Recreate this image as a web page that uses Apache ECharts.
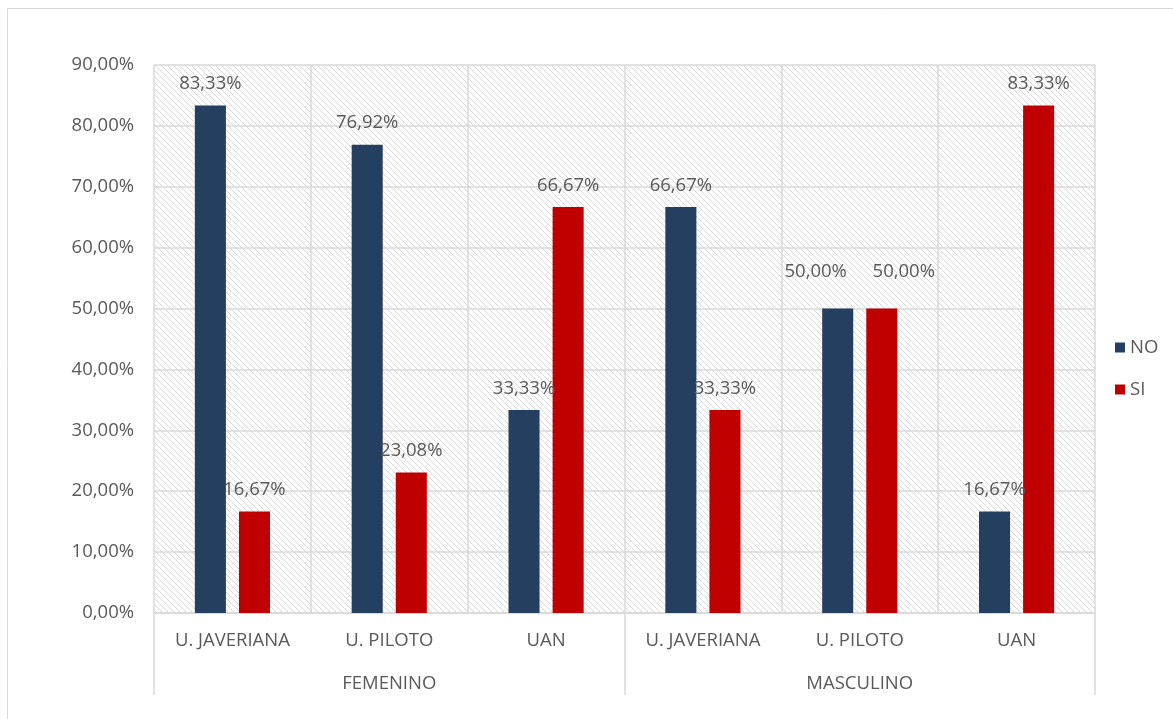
<!DOCTYPE html>
<html><head><meta charset="utf-8">
<script src="https://cdn.jsdelivr.net/npm/echarts@6/dist/echarts.min.js"></script>
<style>html,body{margin:0;padding:0;background:#fff}#c{width:1173px;height:719px}</style>
</head><body><div id="c"></div>
<script>
const categories = ['U. JAVERIANA','U. PILOTO','UAN','U. JAVERIANA','U. PILOTO','UAN'];
const groups = ['FEMENINO','MASCULINO'];
const noValues = [83.33, 76.92, 33.33, 66.67, 50.00, 16.67];
const siValues = [16.67, 23.08, 66.67, 33.33, 50.00, 83.33];
const yTicks = [0,10,20,30,40,50,60,70,80,90];

const font = '"Open Sans", "Liberation Sans", sans-serif';
const txt = '#595959';
const fs = 18.5;

const tile = document.createElement('canvas');
tile.width = 6; tile.height = 6;
const g = tile.getContext('2d');
g.fillStyle = '#ffffff'; g.fillRect(0,0,6,6);
g.strokeStyle = '#d8d8d8'; g.lineWidth = 1;
g.beginPath();
g.moveTo(-1,-1); g.lineTo(7,7);
g.moveTo(-1,5); g.lineTo(1,7);
g.moveTo(5,-1); g.lineTo(7,1);
g.stroke();

const fmt = v => v.toFixed(2).replace('.', ',') + '%';
function mk(vals, dx){
  return vals.map(v => ({value: v, label: v === 50 ? {distance: 27, offset: [dx, 0]} : {distance: 12}}));
}
const chart = echarts.init(document.getElementById('c'));
chart.setOption({
  animation: false,
  backgroundColor: '#fff',
  graphic: [{type:'rect', shape:{x:7.5,y:8.5,width:1200,height:800}, style:{fill:'none', stroke:'#d9d9d9', lineWidth:1}, silent:true}],
  grid: {left:154, right:78, top:65, bottom:106, show:true, borderWidth:0,
         backgroundColor: {image: tile, repeat:'repeat'}},
  legend: {orient:'vertical', left:1110, top:333, itemWidth:10, itemHeight:10, itemGap:23,
           icon:'rect', textStyle:{color:txt, fontFamily:font, fontSize:fs}, data:['NO','SI']},
  xAxis: [
    {type:'category', data:categories, boundaryGap:true,
     axisLine:{lineStyle:{color:'#d9d9d9', width:1.5}}, axisTick:{show:false},
     splitLine:{show:true, interval:0, lineStyle:{color:'#d9d9d9', width:1.5}},
     axisLabel:{interval:0, color:txt, fontFamily:font, fontSize:fs, margin:18}},
    {type:'category', data:groups, position:'bottom', boundaryGap:true,
     axisLine:{show:false},
     axisTick:{show:true, length:82, interval:0, lineStyle:{color:'#d9d9d9', width:1.5}},
     axisLabel:{color:txt, fontFamily:font, fontSize:fs, margin:61}}
  ],
  yAxis: {type:'value', min:0, max:90, interval:10,
    axisLine:{show:false}, axisTick:{show:false},
    splitLine:{lineStyle:{color:'#d9d9d9', width:1.5}},
    axisLabel:{color:txt, fontFamily:font, fontSize:fs, margin:20,
      formatter: v => yTicks.includes(v) ? v.toFixed(2).replace('.', ',') + '%' : ''}},
  series: [
    {name:'NO', type:'bar', data:mk(noValues, -22), barWidth:'19.8%', barGap:'42%',
     itemStyle:{color:'#243f60'},
     label:{show:true, position:'top', color:txt, fontFamily:font, fontSize:fs, formatter: p => fmt(p.value)}},
    {name:'SI', type:'bar', data:mk(siValues, 22), barWidth:'19.8%',
     itemStyle:{color:'#c00000'},
     label:{show:true, position:'top', color:txt, fontFamily:font, fontSize:fs, formatter: p => fmt(p.value)}}
  ]
});
</script></body></html>
